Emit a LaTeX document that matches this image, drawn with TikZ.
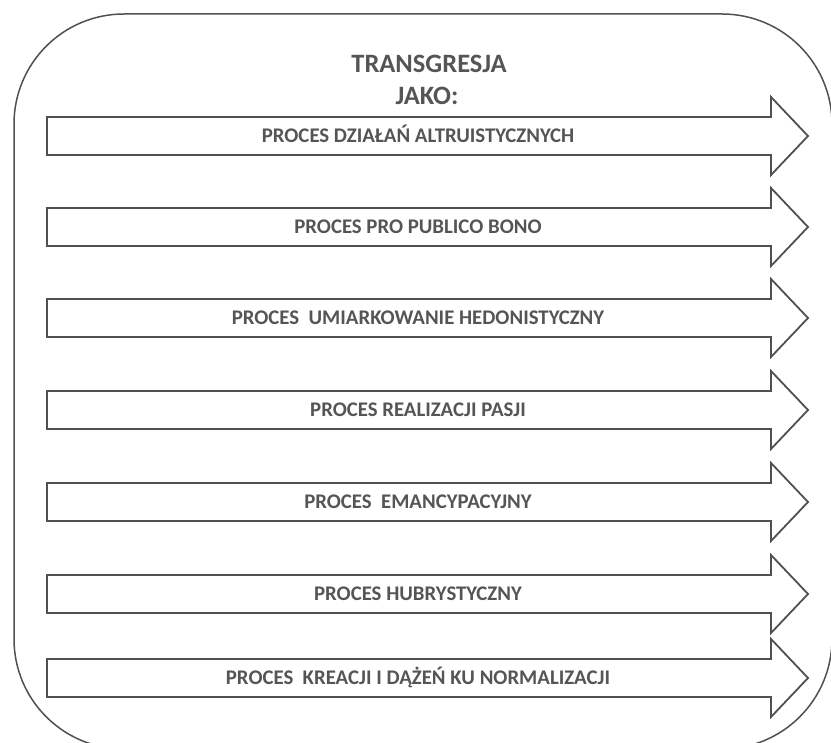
\documentclass[tikz,border=0pt]{standalone}
\usepackage{fontspec}
\setmainfont{Carlito}
\usetikzlibrary{positioning}
\definecolor{linegray}{HTML}{505050}
\definecolor{textgray}{HTML}{555555}

\begin{document}
\begin{tikzpicture}[x=1pt,y=-1pt,
      frame/.style={draw=linegray,line width=1.5pt,rounded corners=110pt},
      arrow shape/.style={draw=linegray,line width=1.8pt,line join=miter},
      label text/.style={font=\bfseries\fontsize{20.8}{22}\selectfont,text=textgray,anchor=base},
      title text/.style={font=\bfseries\fontsize{26.5}{30}\selectfont,text=textgray,anchor=base}]

      \useasboundingbox (0,0) rectangle (831,743);
      \draw[frame] (14,14) rectangle (832,749);

      \node[title text] (title) at (429,73) {TRANSGRESJA};
      \node[title text] (jako) at (427,105) {JAKO:};

      % the seven arrows
      \foreach \y/\txt [count=\i] in {136/{PROCES DZIAŁAŃ ALTRUISTYCZNYCH},
                                      227/{PROCES PRO PUBLICO BONO},
                                      318/{PROCES~ UMIARKOWANIE HEDONISTYCZNY},
                                      410/{PROCES REALIZACJI PASJI},
                                      502/{PROCES~ EMANCYPACYJNY},
                                      594/{PROCES HUBRYSTYCZNY},
                                      678/{PROCES~ KREACJI I DĄŻEŃ KU NORMALIZACJI}} {
        \draw[arrow shape] (47,\y-19) -- (771,\y-19) -- (771,\y-39) -- (808,\y)
                           -- (771,\y+39) -- (771,\y+19) -- (47,\y+19) -- cycle;
        \node[label text] (proc\i) at (418,\y+6.5) {\txt};
      }
    \end{tikzpicture}
\end{document}
